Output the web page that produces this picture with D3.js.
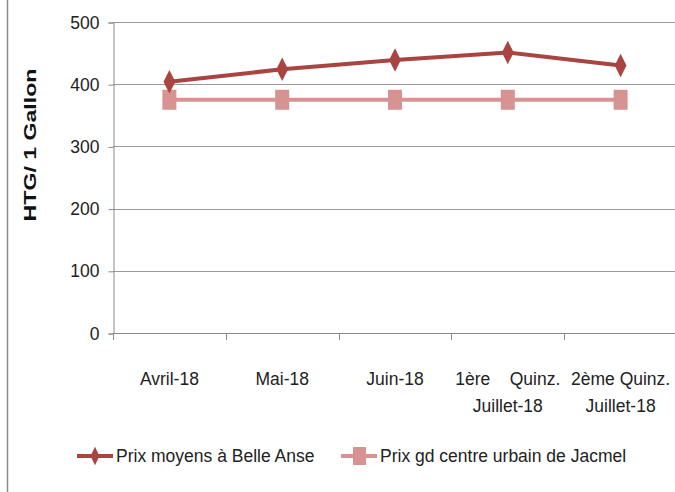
<!DOCTYPE html>
<html>
<head>
<meta charset="utf-8">
<script src="https://cdn.jsdelivr.net/npm/d3@7"></script>
<style>
  body { margin: 0; background: #fff; }
  svg { display: block; }
  .lbl { font-family: "Liberation Sans", Arial, sans-serif; font-size: 17.5px; fill: #222; }
</style>
</head>
<body>
<svg width="675" height="492"></svg>
<script>
// data
var categories = ["Avril-18", "Mai-18", "Juin-18", "1ère Quinz. Juillet-18", "2ème Quinz. Juillet-18"];
var catLines = [["Avril-18"], ["Mai-18"], ["Juin-18"], ["1ère    Quinz.", "Juillet-18"], ["2ème Quinz.", "Juillet-18"]];
var belleAnse = [404, 424, 439, 451, 430];
var jacmel = [375, 375, 375, 375, 375];
var yTicks = [0, 100, 200, 300, 400, 500];
var seriesNames = ["Prix moyens à Belle Anse", "Prix gd centre urbain de Jacmel"];

function drawChart() {
  var svg = d3.select("svg");

  // frame line on the left
  svg.append("line")
    .attr("x1", 7.5).attr("x2", 7.5).attr("y1", 0).attr("y2", 492)
    .style("stroke", "#8a8a8a").style("stroke-width", 1.5);

  var mLeft = 113, mRight = 677, mTop = 22, mBottom = 333;

  var x = d3.scaleBand().domain(categories).range([mLeft, mRight]);
  var y = d3.scaleLinear().domain([0, 500]).range([mBottom, mTop]);

  // gridlines
  svg.selectAll(".grid")
    .data(yTicks.filter(function(d) { return d > 0; }))
    .enter().append("line")
    .attr("x1", mLeft).attr("x2", mRight)
    .attr("y1", function(d) { return Math.round(y(d)) + 0.5; })
    .attr("y2", function(d) { return Math.round(y(d)) + 0.5; })
    .style("stroke", "#9a9a9a").style("stroke-width", 1);

  // y axis
  var yAxis = svg.append("g")
    .attr("transform", "translate(" + (mLeft + 0.5) + ",0.5)")
    .call(d3.axisLeft(y).tickValues(yTicks).tickSize(5).tickPadding(9));
  yAxis.selectAll("line, path").style("stroke", "#8a8a8a");
  yAxis.selectAll("text").attr("class", "lbl").attr("font-size", null).attr("font-family", null);

  // x axis
  svg.append("line")
    .attr("x1", mLeft).attr("x2", mRight)
    .attr("y1", mBottom + 0.5).attr("y2", mBottom + 0.5)
    .style("stroke", "#8a8a8a");
  svg.selectAll(".xtick")
    .data(categories.concat([null]))
    .enter().append("line")
    .attr("x1", function(d, i) { return Math.round(mLeft + i * x.bandwidth()) + 0.5; })
    .attr("x2", function(d, i) { return Math.round(mLeft + i * x.bandwidth()) + 0.5; })
    .attr("y1", mBottom).attr("y2", mBottom + 7)
    .style("stroke", "#8a8a8a");

  var xl = svg.selectAll(".xlab")
    .data(categories)
    .enter().append("text")
    .attr("class", "lbl")
    .attr("text-anchor", "middle")
    .attr("transform", function(d) { return "translate(" + (x(d) + x.bandwidth() / 2) + ",385)"; });
  xl.selectAll("tspan")
    .data(function(d, i) { return catLines[i]; })
    .enter().append("tspan")
    .attr("x", 0)
    .attr("y", function(d, i) { return i * 27; })
    .style("white-space", "pre")
    .text(function(d) { return d; });

  // y title (glyphs stretched along the text, like the original)
  svg.append("text")
    .attr("transform", "translate(36,145) rotate(-90) scale(1.36,1)")
    .attr("text-anchor", "middle")
    .style("font-family", "Liberation Sans, Arial, sans-serif")
    .style("font-weight", "bold").style("font-size", "17px").style("fill", "#111")
    .text("HTG/ 1 Gallon");

  var cx = function(d, i) { return x(categories[i]) + x.bandwidth() / 2; };
  var line = d3.line().x(cx).y(function(d) { return y(d); });

  var c1 = "#a94441", c2 = "#d69391";

  // Jacmel series
  svg.append("path").datum(jacmel).attr("d", line)
    .attr("fill", "none").style("stroke", c2).style("stroke-width", 4);
  svg.selectAll(".sq").data(jacmel).enter().append("rect")
    .attr("x", function(d, i) { return cx(d, i) - 7; })
    .attr("y", function(d) { return y(d) - 10; })
    .attr("width", 14).attr("height", 20)
    .style("fill", c2);

  // Belle Anse series
  svg.append("path").datum(belleAnse).attr("d", line)
    .attr("fill", "none").style("stroke", c1).style("stroke-width", 4);
  var diamond = d3.symbol().type(d3.symbolDiamond).size(110);
  svg.selectAll(".dm").data(belleAnse).enter().append("path")
    .attr("d", diamond)
    .attr("transform", function(d, i) { return "translate(" + cx(d, i) + "," + y(d) + ") scale(1.05,1.2)"; })
    .style("fill", c1);

  // legend
  var legend = [
    { name: seriesNames[0], color: c1, x: 77, shape: "diamond" },
    { name: seriesNames[1], color: c2, x: 341, shape: "square" }
  ];
  var lg = svg.selectAll(".lg").data(legend).enter().append("g")
    .attr("transform", function(d) { return "translate(" + d.x + ",456)"; });
  lg.append("line").attr("x1", 0).attr("x2", 36).attr("y1", 0).attr("y2", 0)
    .style("stroke", function(d) { return d.color; }).style("stroke-width", 4);
  lg.filter(function(d) { return d.shape === "diamond"; }).append("path")
    .attr("d", d3.symbol().type(d3.symbolDiamond).size(70))
    .attr("transform", "translate(18,0) scale(1,1.2)")
    .style("fill", function(d) { return d.color; });
  lg.filter(function(d) { return d.shape === "square"; }).append("rect")
    .attr("x", 12).attr("y", -9).attr("width", 13).attr("height", 18)
    .style("fill", function(d) { return d.color; });
  lg.append("text").attr("class", "lbl")
    .attr("x", 39).attr("y", 0).attr("dy", "0.35em")
    .text(function(d) { return d.name; });
}

drawChart();
</script>
</body>
</html>
